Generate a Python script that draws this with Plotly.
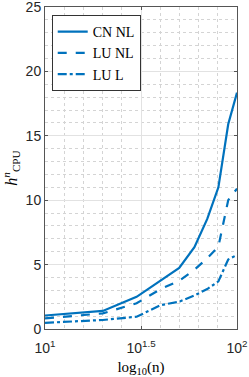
import plotly.graph_objects as go

n_vals = [10, 20, 30, 40, 50, 60, 70, 80, 90, 100]
cn_nl = [1.05, 1.40, 2.50, 3.75, 4.74, 6.35, 8.55, 11.0, 15.9, 18.35]
lu_nl = [0.83, 1.21, 2.00, 3.10, 3.75, 4.60, 5.50, 6.40, 10.0, 10.9]
lu_l = [0.48, 0.70, 0.95, 1.85, 2.12, 2.60, 3.10, 3.70, 5.40, 5.75]

series_names = ["CN NL", "LU NL", "LU L"]
x_tick_vals = [10, 10 ** 1.5, 100]
x_tick_text = ["10<sup>1</sup>", "10<sup>1.5</sup>", "10<sup>2</sup>"]
x_minor_vals = [10 ** (1 + k / 10) for k in range(1, 10) if k != 5]

blue = "#0072BD"
axis_col = "#555555"
text_col = "#262626"
serif = "Liberation Serif, Times New Roman, serif"

fig = go.Figure()
for name, vals, dash in zip(series_names, [cn_nl, lu_nl, lu_l], ["solid", "dash", "dashdot"]):
    fig.add_trace(go.Scatter(x=n_vals, y=vals, mode="lines", name=name,
                             line=dict(color=blue, width=2.2, dash=dash)))

fig.update_layout(
    width=249, height=377,
    margin=dict(l=45, r=12, t=7, b=48, autoexpand=False),
    plot_bgcolor="white", paper_bgcolor="white",
    font=dict(family="Liberation Sans, Arial, sans-serif", size=14, color=text_col),
    legend=dict(x=0.035, y=0.975, xanchor="left", yanchor="top",
                bgcolor="white", bordercolor="#333333", borderwidth=1,
                font=dict(family=serif, size=14, color="#000000"),
                tracegroupgap=0, itemwidth=30),
    showlegend=True,
)
fig.update_xaxes(
    type="log", range=[1, 2], automargin=False, ticklabeloverflow="allow",
    tickmode="array", tickvals=x_tick_vals, ticktext=x_tick_text,
    ticks="inside", ticklen=3, tickcolor=axis_col, ticklabelstandoff=6,
    showline=True, linecolor=axis_col, linewidth=1, mirror="ticks",
    showgrid=True, gridcolor="#e2e2e2", gridwidth=1,
    minor=dict(tickmode="array", tickvals=x_minor_vals, showgrid=True,
               gridcolor="#d4d4d4", griddash="dot", gridwidth=1, ticks=""),
    title=dict(text="log<sub>10</sub>(n)", standoff=8,
               font=dict(family=serif, size=15, color="#000000")),
    zeroline=False,
)
fig.update_yaxes(
    range=[0, 25], tickmode="linear", tick0=0, dtick=5, automargin=False,
    ticklabeloverflow="allow",
    ticks="inside", ticklen=3, tickcolor=axis_col,
    showline=True, linecolor=axis_col, linewidth=1, mirror="ticks",
    showgrid=True, gridcolor="#e2e2e2", gridwidth=1,
    minor=dict(dtick=1, showgrid=True, gridcolor="#d4d4d4", griddash="dot", gridwidth=1, ticks=""),
    title=dict(text="<i>h</i><sup><i>n</i></sup><sub>CPU</sub>", standoff=6,
               font=dict(family=serif, size=16, color="#000000")),
    zeroline=False,
)

fig.write_html("out.html", config={"displayModeBar": False},
               post_script="document.body.style.margin='0';")
